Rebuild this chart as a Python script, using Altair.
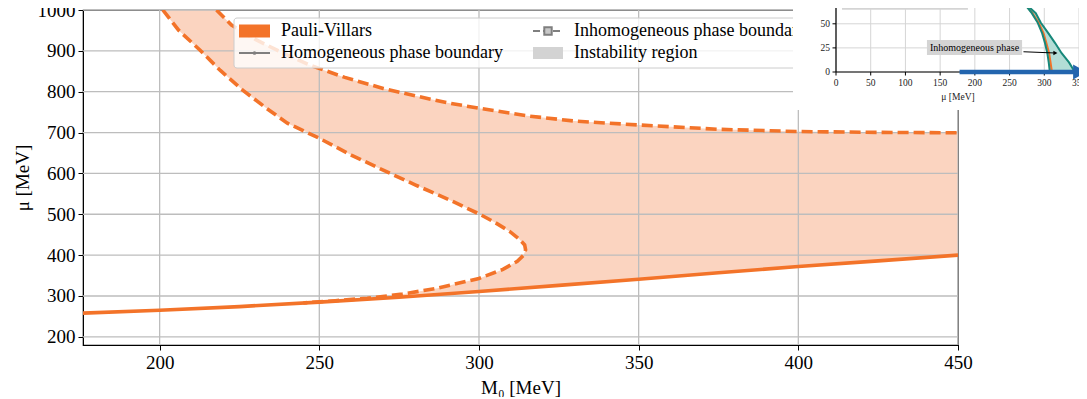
import altair as alt
import pandas as pd

# ---------------- main panel data ----------------
m0_ticks = [200, 250, 300, 350, 400, 450]
mu_ticks = [200, 300, 400, 500, 600, 700, 800, 900, 1000]

# homogeneous phase boundary (solid)
hom_m0 = [176, 200, 225, 250, 275, 300, 325, 350, 375, 400, 425, 450]
hom_mu = [258, 265, 274, 285, 297, 311, 326, 341, 357, 372, 386, 400]

# inhomogeneous boundary, inner branch (top -> nose -> lower branch)
nose_m0 = [201, 206, 212.6, 219, 226, 233, 240, 250, 260, 270, 280, 290.8, 300, 305,
           309.6, 312.5, 314.3, 314.6, 314, 312, 307.5, 300, 287, 276, 265, 255, 245]
nose_mu = [1000, 950, 902, 852, 804, 762, 723, 686, 645, 608, 572, 535, 501, 480,
           458, 440, 425, 413, 400, 385, 365, 343, 319, 304.5, 294.6, 288.5, 283]

# inhomogeneous boundary, outer branch
outer_m0 = [217.8, 222.5, 230, 238, 247, 258, 270, 280, 290, 300, 315, 330, 350, 375, 400, 425, 450]
outer_mu = [1000, 963, 928, 897, 865, 835, 808, 790, 773, 759.5, 741, 728, 718.6, 708, 702.5, 700.5, 699.5]

legend_labels = ["Pauli-Villars", "Homogeneous phase boundary",
                 "Inhomogeneous phase boundary", "Instability region"]

# ---------------- inset data ----------------
inset_x_ticks = [0, 50, 100, 150, 200, 250, 300, 350]
inset_y_ticks = [0, 25, 50, 75]
inset_levels = [74, 61, 51, 40, 30, 19.5, 10, 0]
inset_outer = [268, 287.7, 295, 306, 315.6, 325, 335.6, 344]
inset_inner = [268, 282, 290.6, 297, 301, 304.4, 306.4, 308]
inset_orange = [268, 283, 292, 299, 303, 307, 309, 311]
inset_crit = [268, 74]
inset_arrow_mu = [178, 348]
inset_arrow_tip = [351]
inset_labels = ["Homogeneously broken phase", "Inhomogeneous phase"]
inset_xtitle = "μ [MeV]"

# ---------------- styles ----------------
FONT = "Liberation Serif"
ORANGE = "#f37329"
FILL = "#fbd4c0"
GRID = "#bdbdbd"
TEAL = "#17887a"
TEAL_FILL = "#b3ddd6"
BLUE = "#2365ae"

W, H = 875, 335

# ---------------- main panel ----------------
hom_df = pd.DataFrame({"m0": hom_m0, "mu": hom_mu})
nose_df = pd.DataFrame({"m0": nose_m0, "mu": nose_mu, "o": range(len(nose_m0))})
outer_df = pd.DataFrame({"m0": outer_m0, "mu": outer_mu})

poly = [(m, u) for m, u in zip(hom_m0, hom_mu) if m > nose_m0[-1]]
poly += list(zip(outer_m0, outer_mu))[::-1]
poly += list(zip(nose_m0, nose_mu))
poly_df = pd.DataFrame(poly, columns=["m0", "mu"])
poly_df["o"] = range(len(poly_df))

xs = alt.Scale(domain=[176, 450], nice=False, zero=False)
ys = alt.Scale(domain=[180, 1000], nice=False, zero=False)
xax = alt.Axis(values=m0_ticks, format="d", title="M₀ [MeV]", grid=False, labelFont=FONT, labelFontSize=19,
               titleFont=FONT, titleFontSize=19, titleFontWeight="normal", labelColor="black",
               titleColor="black", tickColor="black", domainColor="black", tickSize=5,
               labelPadding=3, titlePadding=6, labelFlush=False, labelOverlap=False)
yax = alt.Axis(values=mu_ticks, format="d", title="μ [MeV]", grid=False, labelFont=FONT, labelFontSize=19,
               titleFont=FONT, titleFontSize=19, titleFontWeight="normal", labelColor="black",
               titleColor="black", tickColor="black", domainColor="black", tickSize=5,
               labelPadding=3, titlePadding=5, labelOverlap=False)

X = alt.X("m0:Q", scale=xs, axis=xax)
Y = alt.Y("mu:Q", scale=ys, axis=yax)

fill = alt.Chart(poly_df).mark_line(fill=FILL, strokeOpacity=0, strokeWidth=0, clip=True).encode(
    X, Y, order="o:Q")
vgrid = alt.Chart(pd.DataFrame({"m0": m0_ticks})).mark_rule(color=GRID, strokeWidth=1.3).encode(X)
hgrid = alt.Chart(pd.DataFrame({"mu": mu_ticks})).mark_rule(color=GRID, strokeWidth=1.3).encode(Y)
hom = alt.Chart(hom_df).mark_line(color=ORANGE, strokeWidth=3.6, clip=True).encode(X, Y)
nose = alt.Chart(nose_df).mark_line(color=ORANGE, strokeWidth=3.6, strokeDash=[11, 5], clip=True).encode(
    X, Y, order="o:Q")
outer = alt.Chart(outer_df).mark_line(color=ORANGE, strokeWidth=3.6, strokeDash=[11, 5], clip=True).encode(X, Y)

main = alt.layer(fill, vgrid, hgrid, hom, nose, outer)

# ---------------- legend (drawn as marks) ----------------
one = pd.DataFrame({"a": [0]})
LG = []
LG.append(alt.Chart(one).mark_rect(fill="white", fillOpacity=0.8, stroke="#cccccc", strokeWidth=1,
                                   cornerRadius=3).encode(
    x=alt.value(151), x2=alt.value(730), y=alt.value(8), y2=alt.value(58)))
# patch
LG.append(alt.Chart(one).mark_rect(color=ORANGE).encode(
    x=alt.value(156), x2=alt.value(187), y=alt.value(14.5), y2=alt.value(27.5)))
# homogeneous handle
LG.append(alt.Chart(one).mark_rule(color="#7f7f7f", strokeWidth=2).encode(
    x=alt.value(156), x2=alt.value(187), y=alt.value(43)))
LG.append(alt.Chart(one).mark_point(filled=True, color="#7f7f7f", size=14, opacity=1).encode(
    x=alt.value(171.5), y=alt.value(43)))
# inhomogeneous handle
LG.append(alt.Chart(one).mark_rule(color="#7f7f7f", strokeWidth=2, strokeDash=[7, 3]).encode(
    x=alt.value(450), x2=alt.value(480), y=alt.value(21)))
LG.append(alt.Chart(one).mark_point(shape="square", filled=True, fill="#c8c8c8", stroke="#7f7f7f",
                                    strokeWidth=2, size=55, opacity=1).encode(
    x=alt.value(465), y=alt.value(21)))
# instability handle
LG.append(alt.Chart(one).mark_rect(color="#d3d3d3").encode(
    x=alt.value(450), x2=alt.value(480), y=alt.value(37), y2=alt.value(49)))
lpos = [(198, 21), (198, 43), (491, 21), (491, 43)]
for lab, (px, py) in zip(legend_labels, lpos):
    LG.append(alt.Chart(pd.DataFrame({"t": [lab]})).mark_text(
        font=FONT, fontSize=18, align="left", baseline="middle", color="black").encode(
        x=alt.value(px), y=alt.value(py), text="t:N"))
legend = alt.layer(*LG)

# ---------------- inset ----------------
ixs = alt.Scale(domain=[0, 350], range=[753, 996], nice=False, zero=False)
iys = alt.Scale(domain=[0, 75], range=[62, -10.3], nice=False, zero=False)
IX = lambda f: alt.X(f, scale=ixs, axis=None)
IY = lambda f: alt.Y(f, scale=iys, axis=None)

IN = []
IN.append(alt.Chart(one).mark_rect(color="white").encode(
    x=alt.value(710), x2=alt.value(1010), y=alt.value(-12), y2=alt.value(100)))
ixt = pd.DataFrame({"x": inset_x_ticks, "y0": [inset_y_ticks[0]] * len(inset_x_ticks),
                    "y1": [inset_y_ticks[-1] + 10] * len(inset_x_ticks)})
iyt = pd.DataFrame({"y": inset_y_ticks, "x0": [inset_x_ticks[0]] * len(inset_y_ticks),
                    "x1": [inset_x_ticks[-1] + 15] * len(inset_y_ticks)})
IN.append(alt.Chart(ixt).mark_rule(color="#d5d5d5", strokeWidth=1).encode(
    x=IX("x:Q"), y=IY("y0:Q"), y2="y1:Q"))
IN.append(alt.Chart(iyt).mark_rule(color="#d5d5d5", strokeWidth=1).encode(
    y=IY("y:Q"), x=IX("x0:Q"), x2="x1:Q"))
# inset labelled boxes
box_df = pd.DataFrame({"x0": [8.6, 131], "x1": [190, 268], "y0": [64.5, 17.6], "y1": [85, 33.2],
                       "tx": [99, 199.5], "ty": [71.5, 25.4], "t": inset_labels})
IN.append(alt.Chart(box_df).mark_rect(color="#d4d4d4").encode(
    x=IX("x0:Q"), x2="x1:Q", y=IY("y0:Q"), y2="y1:Q"))
IN.append(alt.Chart(box_df).mark_text(font=FONT, fontSize=10, color="black", baseline="middle").encode(
    x=IX("tx:Q"), y=IY("ty:Q"), text="t:N"))
# region and curves
reg = pd.DataFrame({"lvl": inset_levels, "inner": inset_inner, "outer": inset_outer, "orange": inset_orange})
IN.append(alt.Chart(reg).mark_area(orient="horizontal", color=TEAL_FILL).encode(
    y=IY("lvl:Q"), x=IX("inner:Q"), x2="outer:Q"))
IN.append(alt.Chart(reg).mark_line(color=ORANGE, strokeWidth=2).encode(
    y=IY("lvl:Q"), x=IX("orange:Q"), order="lvl:Q"))
IN.append(alt.Chart(reg).mark_line(color=TEAL, strokeWidth=2).encode(
    y=IY("lvl:Q"), x=IX("inner:Q"), order="lvl:Q"))
IN.append(alt.Chart(reg).mark_line(color=TEAL, strokeWidth=2).encode(
    y=IY("lvl:Q"), x=IX("outer:Q"), order="lvl:Q"))
IN.append(alt.Chart(pd.DataFrame({"x": [inset_crit[0]], "y": [inset_crit[1]]})).mark_point(
    filled=True, color="black", size=30, opacity=1).encode(x=IX("x:Q"), y=IY("y:Q")))
# annotation arrow
ann = pd.DataFrame({"x": [270, 316], "y": [21, 19.7]})
IN.append(alt.Chart(ann).mark_line(color="black", strokeWidth=1).encode(x=IX("x:Q"), y=IY("y:Q")))
IN.append(alt.Chart(ann.tail(1)).mark_point(shape="triangle-right", filled=True, color="black",
                                            size=22, opacity=1).encode(x=IX("x:Q"), y=IY("y:Q")))
# spines
IN.append(alt.Chart(pd.DataFrame({"x0": [inset_x_ticks[0]], "x1": [inset_x_ticks[-1]], "y": [0]})).mark_rule(
    color="black", strokeWidth=1.2).encode(x=IX("x0:Q"), x2="x1:Q", y=IY("y:Q")))
IN.append(alt.Chart(pd.DataFrame({"x": [0], "y0": [0], "y1": [inset_y_ticks[-1] + 10]})).mark_rule(
    color="black", strokeWidth=1.2).encode(x=IX("x:Q"), y=IY("y0:Q"), y2="y1:Q"))
IN.append(alt.Chart(pd.DataFrame({"x": inset_x_ticks})).mark_rule(color="black", strokeWidth=1).encode(
    x=IX("x:Q"), y=alt.value(62), y2=alt.value(65.5)))
IN.append(alt.Chart(pd.DataFrame({"y": inset_y_ticks})).mark_rule(color="black", strokeWidth=1).encode(
    y=IY("y:Q"), x=alt.value(749.5), x2=alt.value(753)))
# blue arrow along mu axis
IN.append(alt.Chart(pd.DataFrame({"x": inset_arrow_mu, "y": [0, 0]})).mark_line(
    color=BLUE, strokeWidth=4.5).encode(x=IX("x:Q"), y=IY("y:Q")))
IN.append(alt.Chart(pd.DataFrame({"x": inset_arrow_tip, "y": [0]})).mark_point(
    shape="triangle-right", filled=True, color=BLUE, size=230, opacity=1).encode(x=IX("x:Q"), y=IY("y:Q")))
# tick labels
IN.append(alt.Chart(pd.DataFrame({"x": inset_x_ticks})).mark_text(
    font=FONT, fontSize=9.5, color="#222222", baseline="middle", dy=11).encode(
    x=IX("x:Q"), y=alt.value(62), text="x:Q"))
IN.append(alt.Chart(pd.DataFrame({"y": inset_y_ticks})).mark_text(
    font=FONT, fontSize=9.5, color="#222222", baseline="middle", align="right", dx=-6).encode(
    y=IY("y:Q"), x=alt.value(753), text="y:Q"))
IN.append(alt.Chart(pd.DataFrame({"t": [inset_xtitle]})).mark_text(
    font=FONT, fontSize=9.5, color="#222222", baseline="middle").encode(
    x=alt.value(875), y=alt.value(87), text="t:N"))
inset = alt.layer(*IN)

chart = alt.layer(main, legend, inset).resolve_scale(x="independent", y="independent").properties(
    width=W, height=H, padding={"left": 75, "top": 2, "right": 121, "bottom": 52},
    autosize=alt.AutoSizeParams(type="none"),
).configure_view(stroke="black", strokeWidth=1.2).configure_axis(
    labelFont=FONT, titleFont=FONT)

chart.save("out.html", embed_options={"renderer": "svg", "actions": False})
